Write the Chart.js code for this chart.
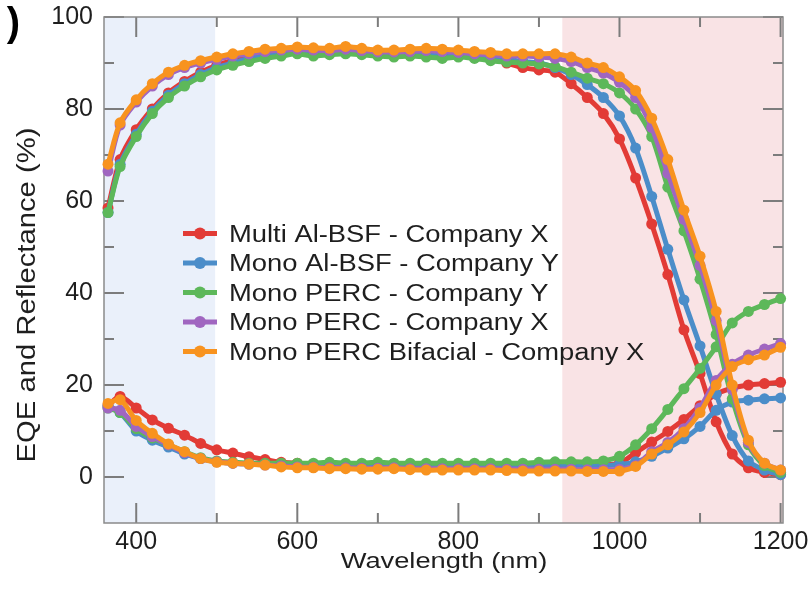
<!DOCTYPE html>
<html>
<head>
<meta charset="utf-8">
<script src="https://cdn.jsdelivr.net/npm/chart.js@4.4.0/dist/chart.umd.min.js"></script>
<style>
  html, body { margin: 0; padding: 0; background: #fff; }
</style>
</head>
<body>
<canvas id="chart" width="812" height="593"></canvas>
<script>
const wavelength = [365, 380, 400, 420, 440, 460, 480, 500, 520, 540, 560, 580, 600, 620, 640, 660, 680, 700, 720, 740, 760, 780, 800, 820, 840, 860, 880, 900, 920, 940, 960, 980, 1000, 1020, 1040, 1060, 1080, 1100, 1120, 1140, 1160, 1180, 1200];

const seriesNames = ['Multi Al-BSF - Company X', 'Mono Al-BSF - Company Y', 'Mono PERC - Company Y', 'Mono PERC - Company X', 'Mono PERC Bifacial - Company X'];
const seriesColors = ['#e23b36', '#4b8dc9', '#5db85a', '#a066c0', '#f8931f'];

// EQE (%)
const eqeMultiX = [58.5, 69, 75.5, 80, 83.5, 86, 88, 89.5, 90.5, 91.3, 92, 92.5, 93, 92.8, 92.8, 93, 92.6, 92.3, 92.3, 92.5, 92.4, 92.3, 92.3, 92, 91, 90, 89, 88.5, 88, 85.5, 82.5, 79, 73.5, 65, 55, 44, 32, 22.5, 12, 5, 2, 1, 0.5];
const eqeMonoY = [57.5, 68, 74.5, 79.5, 83, 85.5, 87.5, 89, 90, 91, 91.5, 92, 92.5, 92.3, 92.3, 92.5, 92.2, 92, 92, 92, 92, 91.8, 92, 91.8, 91.3, 90.8, 90.3, 90, 89, 87.5, 85.3, 82.5, 78.5, 71.5, 61, 49.5, 38.5, 28.5, 18, 9, 3.5, 1.5, 0.5];
const eqePercY = [57.5, 67.5, 74, 79, 82.5, 85, 87, 88.5, 89.5, 90.3, 91, 91.5, 92, 91.5, 91.8, 92, 91.8, 91.5, 91.3, 91.5, 91.3, 91, 91.3, 91, 90.5, 90.2, 90, 89.8, 89.2, 88, 86.7, 85.5, 83.5, 80, 74, 63, 53.5, 43, 31, 17, 7, 2.5, 1];
const eqePercX = [66.5, 76.5, 81.5, 85, 87.5, 89, 90, 90.8, 91.5, 92, 92.5, 92.8, 93, 92.8, 92.7, 93, 92.7, 92.4, 92.4, 92.5, 92.7, 92.5, 92.3, 92, 91.8, 91.5, 91.5, 91.3, 91, 90.3, 89, 87.8, 85.8, 82.5, 76, 66, 56, 46, 34, 19, 7.5, 3, 1.5];
const eqeBifacialX = [68, 77, 82, 85.5, 88, 89.5, 90.5, 91.3, 92, 92.5, 93, 93.2, 93.5, 93.3, 93.2, 93.6, 93.2, 92.8, 92.8, 93, 93.2, 93, 92.8, 92.5, 92.3, 92, 92, 92, 92, 91.3, 90, 89, 87, 84, 78, 69, 58, 48, 36, 20, 8, 3, 1.5];

// Reflectance (%)
const refMultiX = [15.5, 17.5, 15, 12.4, 10.6, 9.1, 7.3, 5.9, 5.2, 4.4, 3.8, 3.2, 3, 2.8, 2.7, 2.7, 2.6, 2.6, 2.7, 2.6, 2.6, 2.6, 2.6, 2.6, 2.6, 2.6, 2.5, 2.5, 2.5, 2.5, 2.5, 2.6, 3, 5.3, 7.6, 9.9, 12.5, 15.5, 18, 19.3, 20, 20.3, 20.6];
const refMonoY = [15.5, 14, 10, 8, 6.5, 5, 4, 3.3, 3, 2.8, 2.7, 2.6, 2.5, 2.5, 2.5, 2.5, 2.5, 2.5, 2.5, 2.5, 2.5, 2.5, 2.5, 2.5, 2.5, 2.5, 2.5, 2.4, 2.4, 2.4, 2.4, 2.5, 2.7, 3.3, 4.5, 6.3, 8.3, 11, 14.5, 16.3, 16.7, 17, 17.2];
const refPercY = [15, 14, 10.5, 8.5, 7, 5.5, 4.2, 3.5, 3.2, 3, 3, 3, 3, 3, 3.2, 3, 3, 3.2, 3, 3, 3, 3, 3, 3, 3, 3, 3, 3.2, 3.3, 3.3, 3.3, 3.5, 4.5, 7, 10.5, 14.7, 19.2, 23.6, 28.3, 33.5, 36, 37.5, 38.8];
const refPercX = [15, 14.5, 11, 8.8, 7, 5.3, 4, 3.3, 3, 2.8, 2.6, 2.4, 2.2, 2.1, 2, 2, 1.9, 1.9, 2, 1.8, 1.8, 1.8, 1.8, 1.8, 1.8, 1.7, 1.7, 1.7, 1.7, 1.7, 1.6, 1.6, 1.7, 2.5, 5.5, 7.5, 10.5, 15, 21, 24.5, 26.5, 27.8, 29];
const refBifacialX = [16, 16.8, 12.3, 9.5, 7.2, 5.5, 4, 3.2, 3, 2.8, 2.6, 2.2, 2, 2, 1.8, 1.8, 1.7, 1.7, 1.8, 1.6, 1.5, 1.5, 1.5, 1.5, 1.5, 1.4, 1.3, 1.3, 1.3, 1.3, 1.2, 1.2, 1.3, 2.3, 5, 7, 9.8, 14, 20, 24, 25.5, 26.5, 28.2];

const xTicks = [400, 600, 800, 1000, 1200];
const xMinorTicks = [500, 700, 900, 1100];
const yTicks = [0, 20, 40, 60, 80, 100];
const yMinorTicks = [10, 30, 50, 70, 90];

const uvBand = [360, 498];
const irBand = [929, 1203];

const FONT = "'Liberation Sans', Arial, Helvetica, sans-serif";

const eqeSets = [eqeMultiX, eqeMonoY, eqePercY, eqePercX, eqeBifacialX];
const refSets = [refMultiX, refMonoY, refPercY, refPercX, refBifacialX];

const toPoints = (vals) => vals.map((v, i) => ({ x: wavelength[i], y: v }));

const datasets = [];
seriesNames.forEach((name, i) => {
  [eqeSets[i], refSets[i]].forEach((vals, k) => {
    datasets.push({
      label: k === 0 ? name : name + ' (R)',
      data: toPoints(vals),
      borderColor: seriesColors[i],
      backgroundColor: seriesColors[i],
      borderWidth: 5,
      pointRadius: 5.5,
      pointBorderWidth: 0,
      tension: 0.3,
      clip: false,
      order: seriesNames.length - 1 - i,
    });
  });
});

// shaded bands, box and inward ticks
const framePlugin = {
  id: 'frame',
  beforeDatasetsDraw(chart) {
    const { ctx, chartArea: a, scales: { x, y } } = chart;
    ctx.save();
    ctx.fillStyle = '#eaf0fa';
    ctx.fillRect(x.getPixelForValue(uvBand[0]), a.top, x.getPixelForValue(uvBand[1]) - x.getPixelForValue(uvBand[0]), a.bottom - a.top);
    ctx.fillStyle = '#f9e3e5';
    ctx.fillRect(x.getPixelForValue(irBand[0]), a.top, x.getPixelForValue(irBand[1]) - x.getPixelForValue(irBand[0]), a.bottom - a.top);

    ctx.strokeStyle = '#7c7c7c';
    ctx.lineWidth = 2;
    const tick = (x1, y1, x2, y2) => { ctx.beginPath(); ctx.moveTo(x1, y1); ctx.lineTo(x2, y2); ctx.stroke(); };
    xTicks.forEach(v => { const p = x.getPixelForValue(v); tick(p, a.bottom, p, a.bottom - 20); tick(p, a.top, p, a.top + 20); });
    xMinorTicks.forEach(v => { const p = x.getPixelForValue(v); tick(p, a.bottom, p, a.bottom - 10); tick(p, a.top, p, a.top + 10); });
    yTicks.forEach(v => { const p = y.getPixelForValue(v); tick(a.left, p, a.left + 20, p); tick(a.right, p, a.right - 20, p); });
    yMinorTicks.forEach(v => { const p = y.getPixelForValue(v); tick(a.left, p, a.left + 10, p); tick(a.right, p, a.right - 10, p); });

    ctx.strokeStyle = '#8a8a8a';
    ctx.lineWidth = 1.5;
    ctx.strokeRect(a.left, a.top, a.right - a.left, a.bottom - a.top);
    ctx.restore();
  },
  afterDraw(chart) {
    const { ctx } = chart;
    ctx.save();
    ctx.fillStyle = '#1e1e1e';
    // axis titles (the original font runs a bit wide)
    ctx.font = '22px ' + FONT;
    ctx.textAlign = 'center';
    ctx.textBaseline = 'alphabetic';
    ctx.save();
    ctx.translate(444, 568);
    ctx.scale(1.24, 1);
    ctx.fillText('Wavelength (nm)', 0, 0);
    ctx.restore();

    ctx.save();
    ctx.font = '25px ' + FONT;
    ctx.translate(35, 295);
    ctx.rotate(-Math.PI / 2);
    ctx.scale(1.17, 1);
    ctx.fillText('EQE and Reflectance (%)', 0, 0);
    ctx.restore();

    // panel label, cut off at the left edge
    ctx.font = 'bold 40px ' + FONT;
    ctx.textAlign = 'right';
    ctx.fillStyle = '#000';
    ctx.fillText(')', 20, 36);

    // legend inside the plot
    seriesNames.forEach((name, i) => {
      const cy = 233.5 + i * 29.5;
      ctx.strokeStyle = seriesColors[i];
      ctx.fillStyle = seriesColors[i];
      ctx.lineWidth = 5;
      ctx.beginPath(); ctx.moveTo(183, cy); ctx.lineTo(217, cy); ctx.stroke();
      ctx.beginPath(); ctx.arc(200, cy, 6, 0, Math.PI * 2); ctx.fill();
      ctx.save();
      ctx.fillStyle = '#1e1e1e';
      ctx.font = '23px ' + FONT;
      ctx.textAlign = 'left';
      ctx.translate(229, cy + 8.2);
      ctx.scale(1.19, 1);
      ctx.fillText(name, 0, 0);
      ctx.restore();
    });
    ctx.restore();
  },
};

const noLabelPadding = (s) => { s.paddingTop = 0; s.paddingBottom = 0; s.paddingLeft = 0; s.paddingRight = 0; };

new Chart(document.getElementById('chart'), {
  type: 'line',
  data: { datasets },
  options: {
    responsive: false,
    animation: false,
    layout: { padding: { left: 0, right: 29, top: 17, bottom: 0 } },
    plugins: { legend: { display: false }, tooltip: { enabled: false } },
    scales: {
      x: {
        type: 'linear',
        min: 360,
        max: 1203,
        grid: { display: false, drawTicks: false },
        border: { display: false },
        ticks: { font: { family: FONT, size: 25 }, color: '#1e1e1e', padding: 4, maxRotation: 0, autoSkip: false, callback: (v) => String(v) },
        afterBuildTicks: (s) => { s.ticks = xTicks.map(v => ({ value: v })); },
        afterFit: (s) => { s.height = 70; noLabelPadding(s); },
      },
      y: {
        min: -10,
        max: 100,
        grid: { display: false, drawTicks: false },
        border: { display: false },
        ticks: { font: { family: FONT, size: 25 }, color: '#1e1e1e', padding: 11, callback: (v) => String(v) },
        afterBuildTicks: (s) => { s.ticks = yTicks.map(v => ({ value: v })); },
        afterFit: (s) => { s.width = 104; noLabelPadding(s); },
      },
    },
  },
  plugins: [framePlugin],
});
</script>
</body>
</html>
